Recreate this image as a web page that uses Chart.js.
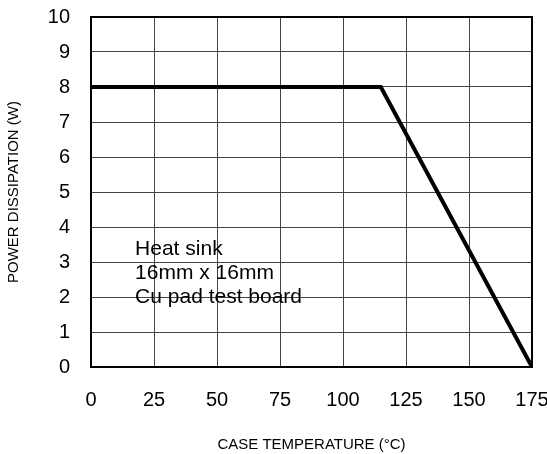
<!DOCTYPE html>
<html>
<head>
<meta charset="utf-8">
<script src="https://cdn.jsdelivr.net/npm/chart.js@4"></script>
<style>
  body { margin: 0; background: #fff; }
  canvas { display: block; }
</style>
</head>
<body>
<canvas id="chart" width="547" height="454"></canvas>
<script>
// Derating curve: case temperature (°C) vs power dissipation (W)
const caseTemp = [0, 115, 175];
const powerW = [8, 8, 0];
const xTicks = [0, 25, 50, 75, 100, 125, 150, 175];
const yTicks = [0, 1, 2, 3, 4, 5, 6, 7, 8, 9, 10];
const noteLines = ["Heat sink", "16mm x 16mm", "Cu pad test board"];

const font = "'Liberation Sans', Arial, sans-serif";

// Draws the note text inside the plot and the dark frame around it
const notePlugin = {
  id: "note",
  afterDraw(chart) {
    const { ctx, chartArea, scales } = chart;
    ctx.save();
    ctx.fillStyle = "#000";
    ctx.font = "21px " + font;
    ctx.textBaseline = "alphabetic";
    const x = scales.x.getPixelForValue(17.5);
    let y = scales.y.getPixelForValue(3.2);
    noteLines.forEach((line) => {
      ctx.fillText(line, x, y);
      y += 24;
    });
    ctx.strokeStyle = "#000";
    ctx.lineWidth = 2;
    ctx.strokeRect(chartArea.left, chartArea.top, chartArea.right - chartArea.left, chartArea.bottom - chartArea.top);
    ctx.restore();
  },
};

const ctx = document.querySelector("#chart").getContext("2d");
new Chart(ctx, {
  type: "line",
  data: {
    datasets: [
      {
        data: caseTemp.map((t, i) => ({ x: t, y: powerW[i] })),
        borderColor: "#000",
        borderWidth: 4,
        pointRadius: 0,
        tension: 0,
        fill: false,
      },
    ],
  },
  options: {
    responsive: false,
    animation: false,
    layout: { padding: { top: 17, right: 15, left: 0, bottom: 0 } },
    plugins: { legend: { display: false }, tooltip: { enabled: false } },
    scales: {
      x: {
        type: "linear",
        min: 0,
        max: 175,
        afterBuildTicks: (scale) => {
          scale.ticks = xTicks.map((v) => ({ value: v }));
        },
        afterFit: (scale) => {
          scale.height = 87;
          scale.paddingLeft = 0;
          scale.paddingRight = 0;
        },
        grid: { color: "#444", lineWidth: 1, drawTicks: false },
        border: { display: false },
        ticks: { color: "#000", padding: 21, maxRotation: 0, font: { family: font, size: 20 } },
        title: {
          display: true,
          text: "CASE TEMPERATURE (°C)",
          color: "#000",
          padding: { top: 4, bottom: 0 },
          font: { family: font, size: 15 },
        },
      },
      y: {
        min: 0,
        max: 10,
        afterBuildTicks: (scale) => {
          scale.ticks = yTicks.map((v) => ({ value: v }));
        },
        afterFit: (scale) => {
          scale.width = 91;
          scale.paddingTop = 0;
          scale.paddingBottom = 0;
        },
        grid: { color: "#444", lineWidth: 1, drawTicks: false },
        border: { display: false },
        ticks: { color: "#000", padding: 21, font: { family: font, size: 20 } },
        title: {
          display: true,
          text: "POWER DISSIPATION (W)",
          color: "#000",
          padding: { top: 5, bottom: 0 },
          font: { family: font, size: 15 },
        },
      },
    },
  },
  plugins: [notePlugin],
});
</script>
</body>
</html>
